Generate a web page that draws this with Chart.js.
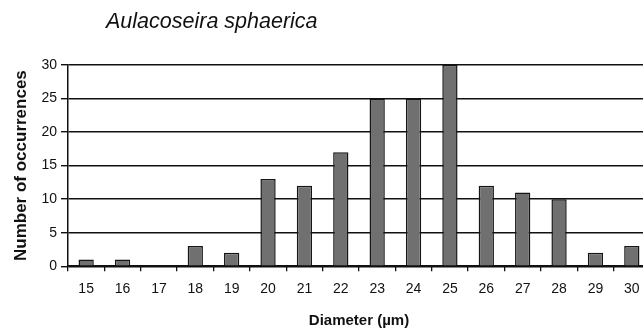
<!DOCTYPE html>
<html>
<head>
<meta charset="utf-8">
<script src="https://cdn.jsdelivr.net/npm/chart.js@4/dist/chart.umd.min.js"></script>
<style>
  html, body { margin: 0; padding: 0; background: #fff; overflow: hidden; }
  .chart-box { width: 650px; height: 332px; }
</style>
</head>
<body>
<div class="chart-box"><canvas id="diameterChart"></canvas></div>
<script>
// diameter classes (µm)
const diameters = ['15', '16', '17', '18', '19', '20', '21', '22', '23', '24', '25', '26', '27', '28', '29', '30'];
// number of occurrences per class
const occurrences = [1, 1, 0, 3, 2, 13, 12, 17, 25, 25, 30, 12, 11, 10, 2, 3];
// y axis ticks
const yTicks = [0, 5, 10, 15, 20, 25, 30];

const chartTitle = 'Aulacoseira sphaerica';

// species name drawn in italics above the plot
const speciesTitle = {
  id: 'speciesTitle',
  afterDraw(chart) {
    const c = chart.ctx;
    c.save();
    c.font = 'italic 21.5px "Liberation Sans", Arial, sans-serif';
    c.fillStyle = '#111';
    c.textBaseline = 'alphabetic';
    c.fillText(chartTitle, 106, 28);
    c.restore();
  }
};

document.addEventListener('DOMContentLoaded', () => {
  const ctx = document.getElementById('diameterChart').getContext('2d');
  const font = '"Liberation Sans", Arial, sans-serif';

  new Chart(ctx, {
    type: 'bar',
    data: {
      labels: diameters,
      datasets: [{
        data: occurrences,
        backgroundColor: '#707070',
        borderColor: '#151515',
        borderWidth: 1.5,
        categoryPercentage: 1,
        barPercentage: 0.42,
      }]
    },
    options: {
      responsive: true,
      maintainAspectRatio: false,
      animation: false,
      layout: { padding: { top: 65, left: 11, right: 0, bottom: 2 } },
      plugins: {
        legend: { display: false },
        tooltip: { enabled: false },
      },
      scales: {
        x: {
          grid: {
            offset: true,
            drawOnChartArea: false,
            color: '#111',
            lineWidth: 1.3,
            tickLength: 5,
          },
          border: { color: '#111', width: 1.5 },
          ticks: { color: '#111', font: { family: font, size: 14 }, padding: 10, maxRotation: 0 },
          title: {
            display: true,
            text: 'Diameter (µm)',
            color: '#111',
            font: { family: font, size: 15, weight: 'bold' },
            padding: { top: 4, bottom: 0 },
          }
        },
        y: {
          min: 0,
          max: 30,
          afterBuildTicks: axis => { axis.ticks = yTicks.map(v => ({ value: v })); },
          grid: { color: '#111', lineWidth: 1.4, tickLength: 7 },
          border: { color: '#111', width: 1.5 },
          ticks: { color: '#111', font: { family: font, size: 14 }, padding: 4 },
          title: {
            display: true,
            text: 'Number of occurrences',
            color: '#111',
            font: { family: font, size: 17, weight: 'bold' },
            padding: { top: 0, bottom: 6 },
          }
        }
      }
    },
    plugins: [speciesTitle]
  });
});
</script>
</body>
</html>
